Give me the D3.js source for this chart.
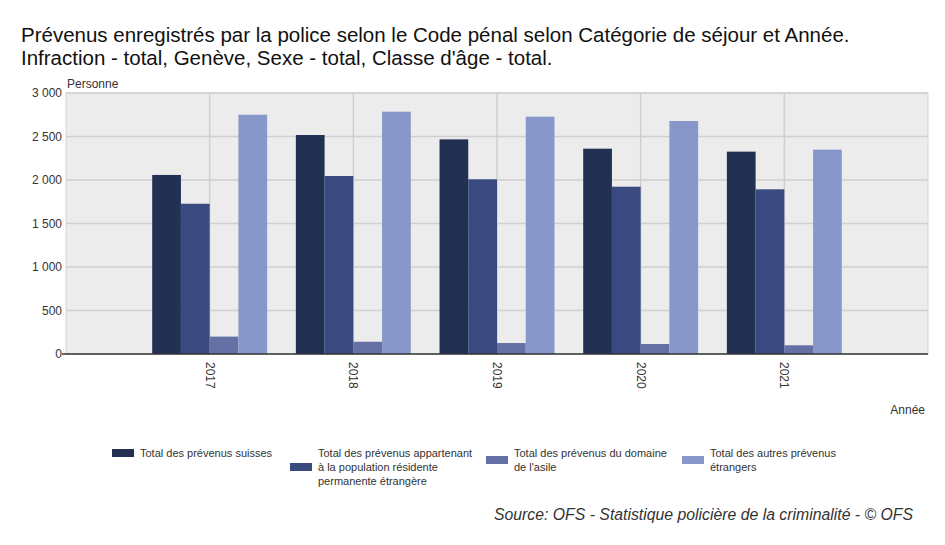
<!DOCTYPE html>
<html><head><meta charset="utf-8">
<script src="https://cdn.jsdelivr.net/npm/d3@7"></script>
<style>
html,body{margin:0;padding:0;background:#fff;}
svg{display:block;font-family:"Liberation Sans",Arial,sans-serif;}
</style></head>
<body><svg id="c" width="945" height="545"></svg>
<script>
const years = ["2017","2018","2019","2020","2021"];
const seriesNames = [
  "Total des prévenus suisses",
  "Total des prévenus appartenant à la population résidente permanente étrangère",
  "Total des prévenus du domaine de l'asile",
  "Total des autres prévenus étrangers"
];
const suisses      = [2058, 2517, 2467, 2360, 2326];
const residents    = [1727, 2046, 2008, 1923, 1893];
const asile        = [200, 141, 126, 115, 100];
const autres       = [2750, 2785, 2728, 2678, 2349];
const yTicks = [0, 500, 1000, 1500, 2000, 2500, 3000];
const legendLines = [
  ["Total des prévenus suisses"],
  ["Total des prévenus appartenant", "à la population résidente", "permanente étrangère"],
  ["Total des prévenus du domaine", "de l'asile"],
  ["Total des autres prévenus", "étrangers"]
];
const colors = ["#223052", "#3a4a80", "#6570a4", "#8797c9"];
const titleLines = [
  "Prévenus enregistrés par la police selon le Code pénal selon Catégorie de séjour et Année.",
  "Infraction - total, Genève, Sexe - total, Classe d'âge - total."
];

const values = [suisses, residents, asile, autres];
const svg = d3.select("#c");
const L = 66, R = 928, T = 93, B = 354;

const x0 = d3.scaleBand().domain(years).range([L, R]).paddingInner(0.2).paddingOuter(0.6);
const x1 = d3.scaleBand().domain(d3.range(seriesNames.length)).range([0, x0.bandwidth()]);
const y = d3.scaleLinear().domain([0, 3000]).range([B, T]);

// background
svg.append("rect").attr("x", L).attr("y", T).attr("width", R - L).attr("height", B - T)
  .attr("fill", "#ececec").attr("stroke", "#d4d4d4").attr("stroke-width", 1);

// horizontal grid
svg.append("g").selectAll("line").data(yTicks.filter(d => d > 0)).join("line")
  .attr("x1", L).attr("x2", R).attr("y1", d => y(d)).attr("y2", d => y(d))
  .attr("stroke", "#cfcfcf").attr("stroke-width", 1.5);
// vertical grid
svg.append("g").selectAll("line").data(years).join("line")
  .attr("x1", d => x0(d) + x0.bandwidth() / 2).attr("x2", d => x0(d) + x0.bandwidth() / 2)
  .attr("y1", T).attr("y2", B)
  .attr("stroke", "#cfcfcf").attr("stroke-width", 1.5);

// bars
const g = svg.append("g");
years.forEach((yr, i) => {
  g.append("g").attr("transform", `translate(${x0(yr)},0)`)
    .selectAll("rect").data(values.map((arr, s) => ({ s, v: arr[i] }))).join("rect")
    .attr("x", d => x1(d.s)).attr("width", x1.bandwidth())
    .attr("y", d => y(d.v)).attr("height", d => B - y(d.v))
    .attr("fill", d => colors[d.s]);
});

// baseline
svg.append("line").attr("x1", L - 4).attr("x2", R).attr("y1", B).attr("y2", B)
  .attr("stroke", "#333").attr("stroke-width", 1.5);

// y axis labels
const fmt = d => d3.format(",")(d).replace(/,/g, " ");
svg.append("g").selectAll("text").data(yTicks).join("text")
  .attr("x", 62).attr("y", d => y(d) + 4).attr("text-anchor", "end")
  .attr("font-size", 12).attr("fill", "#333").text(fmt);
svg.append("text").attr("x", 67).attr("y", 88).attr("font-size", 12).attr("fill", "#333").text("Personne");

// x axis labels
svg.append("g").selectAll("text").data(years).join("text")
  .attr("transform", d => `translate(${x0(d) + x0.bandwidth() / 2 - 4},362) rotate(90)`)
  .attr("font-size", 12).attr("fill", "#333").text(d => d);
svg.append("text").attr("x", 925).attr("y", 414).attr("text-anchor", "end")
  .attr("font-size", 12).attr("fill", "#333").text("Année");

// title
svg.append("g").selectAll("text").data(titleLines).join("text")
  .attr("x", 21).attr("y", (d, i) => 42 + i * 23)
  .attr("font-size", 20.5).attr("fill", "#111").text(d => d);

// legend
const legX = [112, 290, 486, 682];
legendLines.forEach((lines, i) => {
  const lg = svg.append("g");
  const top = 449;
  const lh = 14;
  lines.forEach((t, j) => {
    lg.append("text").attr("x", legX[i] + 28).attr("y", top + 8 + j * lh)
      .attr("font-size", 11).attr("fill", "#333").text(t);
  });
  const mid = top + 4 + (lines.length - 1) * lh / 2;
  lg.append("rect").attr("x", legX[i]).attr("y", mid - 4).attr("width", 22).attr("height", 8)
    .attr("fill", colors[i]);
});

// source
svg.append("text").attr("x", 913).attr("y", 520).attr("text-anchor", "end")
  .attr("font-size", 15.8).attr("font-style", "italic").attr("fill", "#333")
  .text("Source: OFS - Statistique policière de la criminalité - © OFS");
</script></body></html>
